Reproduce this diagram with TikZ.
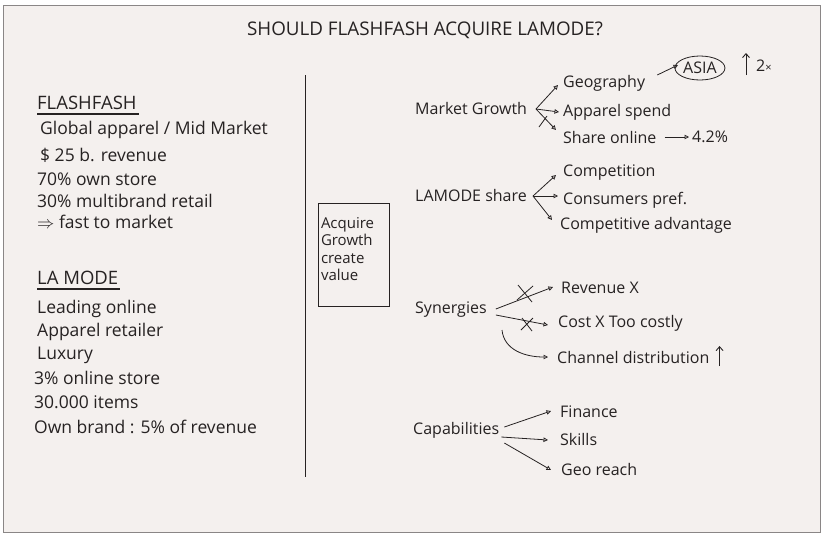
\documentclass[tikz,border=0pt]{standalone}
\usepackage{fontspec}
\setmainfont{Open Sans}
\usetikzlibrary{arrows.meta}
\definecolor{paper}{HTML}{F4F0EE}
\definecolor{ink}{HTML}{262222}
\definecolor{frame}{HTML}{8A8686}
\begin{document}
\begin{tikzpicture}[x=1pt,y=-1pt,
  txt/.style={anchor=west,inner sep=0pt,text=ink,font=\fontsize{17.5}{20}\selectfont},
  head/.style={anchor=west,inner sep=0pt,text=ink,font=\fontsize{18.5}{20}\selectfont},
  rtxt/.style={anchor=west,inner sep=0pt,text=ink,font=\fontsize{16}{18}\selectfont},
  conn/.style={draw=ink,line width=0.8pt,-{Triangle[open,length=4.5pt,width=4.5pt]}},
  xstroke/.style={draw=ink,line width=0.8pt},
  uparrow/.style={draw=ink,line width=0.9pt,-{Straight Barb[length=4pt,width=7pt]}}]
\useasboundingbox (0,0) rectangle (824,539);
\fill[white] (0,0) rectangle (824,539);
\filldraw[fill=paper,draw=frame,line width=1pt] (3,5) rectangle (820,532);

% title
\node[inner sep=0pt,text=ink,font=\fontsize{18.8}{20}\selectfont] (title) at (425,30) {SHOULD FLASHFASH ACQUIRE LAMODE?};

% left column
\node[head] (flash) at (37,103) {FLASHFASH};
\draw[ink,line width=2.2pt] ([yshift=-4pt]flash.south west) -- ([yshift=-4pt,xshift=2pt]flash.south east);
\node[txt] (l1) at (40,130) {Global apparel / Mid Market};
\node[txt] (l2) at (40,155) {\$ 25 b. revenue};
\node[txt] (l3) at (37,179) {70\% own store};
\node[txt] (l4) at (37,201) {30\% multibrand retail};
\node[txt] (l5) at (37,222) {$\Rightarrow$ fast to market};

\node[head] (lamode) at (37,278) {LA MODE};
\draw[ink,line width=2.2pt] ([yshift=-4pt]lamode.south west) -- ([yshift=-4pt,xshift=2pt]lamode.south east);
\node[txt] (m1) at (37,309) {Leading online};
\node[txt] (m2) at (37,332) {Apparel retailer};
\node[txt] (m3) at (37,355) {Luxury};
\node[txt] (m4) at (34,378) {3\% online store};
\node[txt] (m5) at (34,402) {30.000 items};
\node[txt] (m6) at (34,427) {Own brand : 5\% of revenue};

% divider and goal box
\draw[ink,line width=0.9pt] (305,75) -- (305,477);
\node[align=left,text width=62pt,text=ink,font=\fontsize{15}{17.5}\selectfont,inner sep=0pt]
      (goal) at (352,249) {Acquire\\Growth\\create\\value};
\draw[ink,line width=0.9pt] (318,203) rectangle (389,306);

% market growth
\node[rtxt] (mg) at (415,108) {Market Growth};
\node[rtxt] (geo) at (563,83) {Geography};
\node[rtxt] (app) at (563,112) {Apparel spend};
\node[rtxt] (sho) at (563,137) {Share online};
\node[rtxt] (pct) at (692,137) {4.2\%};
\node[rtxt] (asia) at (683,68) {ASIA};
\draw[ink,line width=0.8pt] (asia) ellipse (25pt and 12pt);
\node[rtxt] (twox) at (756,66) {2\fontsize{11}{11}\selectfont ×};
\coordinate (upa) at (746,75);
\coordinate (upb) at (746,53);
\draw[uparrow] (upa) -- (upb);
\coordinate (mgj) at (536,109);
\draw[conn] (mgj) -- ([xshift=-5pt,yshift=-2pt]geo.west);
\draw[conn] (mgj) -- ([xshift=-4pt]app.west);
\draw[conn] (mgj) -- ([xshift=-7pt,yshift=7pt]sho.west);
\draw[xstroke] (539,127) -- (547,116);
\draw[conn] ([xshift=8pt]sho.east) -- ([xshift=-3pt]pct.west);
\draw[conn] ([xshift=12pt,yshift=8pt]geo.east) -- ([xshift=-5pt,yshift=3pt]asia.west);

% lamode share
\node[rtxt] (lms) at (415,195) {LAMODE share};
\node[rtxt] (comp) at (563,173) {Competition};
\node[rtxt] (cons) at (563,200) {Consumers pref.};
\node[rtxt] (adv) at (560,225) {Competitive advantage};
\coordinate (lmj) at (533,196);
\draw[conn] (lmj) -- ([xshift=-7pt,yshift=-2pt]comp.west);
\draw[conn] (lmj) -- ([xshift=-5pt,yshift=4pt]cons.west);
\draw[conn] (lmj) -- ([xshift=-8pt,yshift=5pt]adv.west);

% synergies
\node[rtxt] (syn) at (415,310) {Synergies};
\node[rtxt] (rev) at (561,288) {Revenue X};
\node[rtxt] (cost) at (558,323) {Cost X Too costly};
\node[rtxt] (chan) at (557,357) {Channel distribution};
\draw[conn] ([xshift=9pt,yshift=1pt]syn.east) -- ([xshift=-8pt,yshift=1pt]rev.west);
\draw[xstroke] (518,285) -- (532,302);
\draw[xstroke] (517,300) -- (533,286);
\draw[conn] ([xshift=9pt,yshift=-5pt]syn.east) -- ([xshift=-10pt,yshift=-2pt]cost.west);
\draw[xstroke] (522,318) -- (532,331);
\draw[xstroke] (521,330) -- (533,318);
\coordinate (synb) at (502,330);
\draw[conn] (synb) .. controls (504,350) and (525,357) .. ([xshift=-9pt]chan.west);
\coordinate (upc) at ([xshift=10pt,yshift=-9pt]chan.east);
\coordinate (upd) at ([xshift=10pt,yshift=11pt]chan.east);
\draw[uparrow] (upc) -- (upd);

% capabilities
\node[rtxt] (cap) at (413,430) {Capabilities};
\node[rtxt] (fin) at (560,412) {Finance};
\node[rtxt] (ski) at (560,439) {Skills};
\node[rtxt] (geor) at (561,469) {Geo reach};
\draw[conn] ([xshift=5pt,yshift=3pt]cap.east) -- ([xshift=-9pt,yshift=1pt]fin.west);
\draw[conn] ([xshift=2pt,yshift=-7pt]cap.east) -- ([xshift=-12pt,yshift=-1pt]ski.west);
\draw[conn] ([xshift=5pt,yshift=-13pt]cap.east) -- ([xshift=-10pt,yshift=-1pt]geor.west);
\end{tikzpicture}
\end{document}
